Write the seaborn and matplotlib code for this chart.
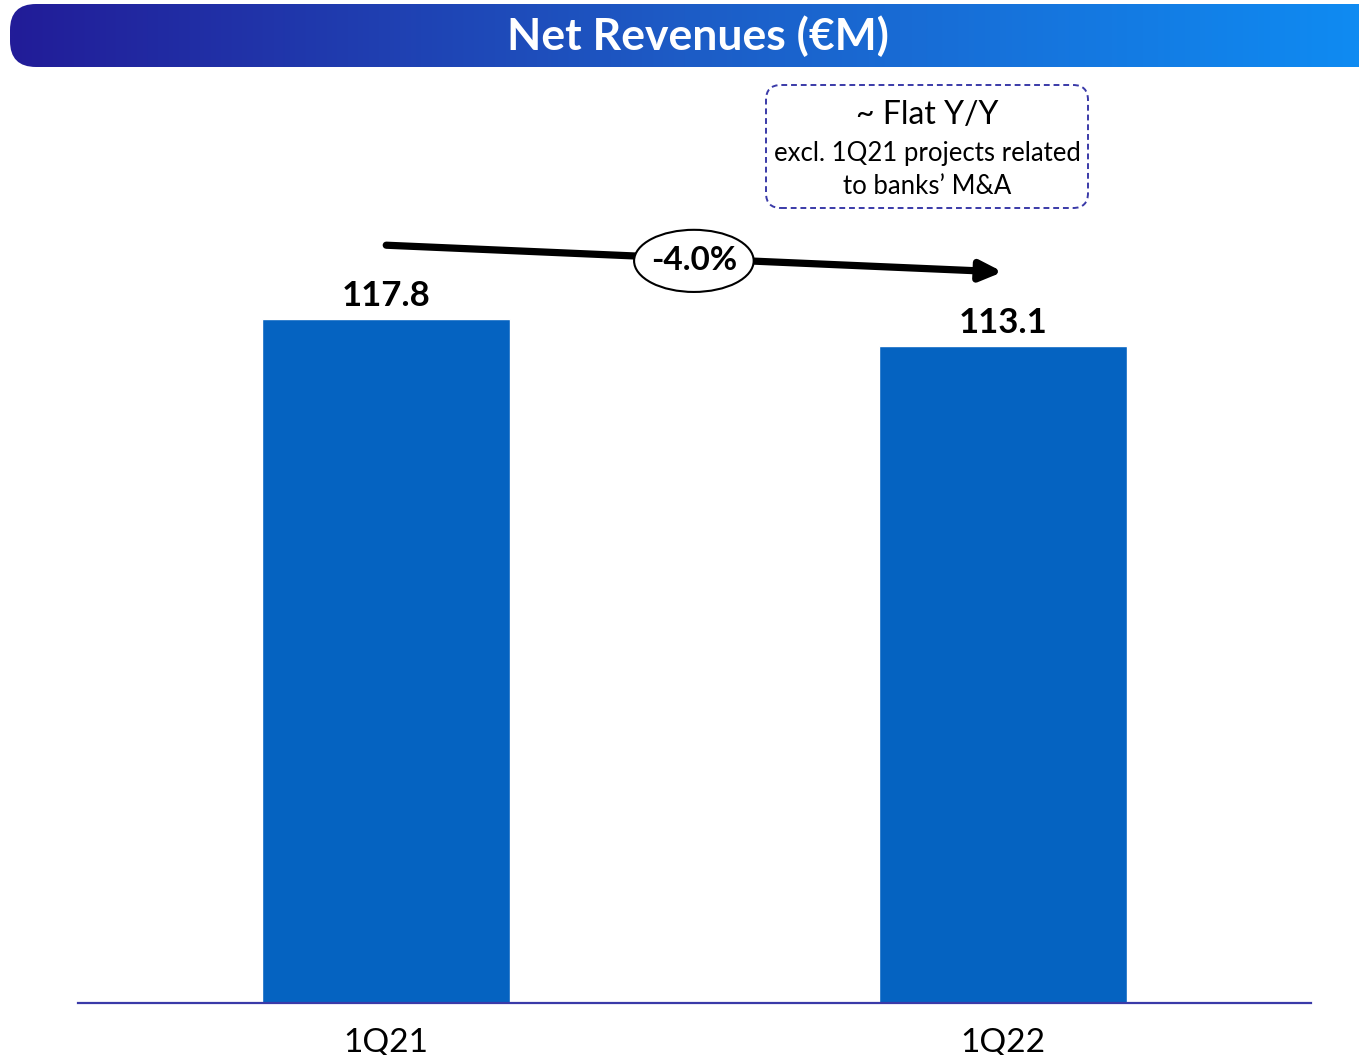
import matplotlib
matplotlib.use("Agg")
import matplotlib.pyplot as plt
from matplotlib.patches import FancyBboxPatch, Ellipse
import seaborn as sns
import numpy as np
import pandas as pd

quarters = ["1Q21", "1Q22"]
revenues = [117.8, 113.1]
change_label = "-4.0%"
title = "Net Revenues (€M)"
note_head = "~ Flat Y/Y"
note_lines = ["excl. 1Q21 projects related", "to banks’ M&A"]

sns.set_style("white")
plt.rcParams["font.family"] = ["Lato", "DejaVu Sans"]
plt.rcParams["text.color"] = "black"
plt.rcParams["xtick.color"] = "black"

bar_color = "#0563C1"
line_color = "#3A3AA8"

fig = plt.figure(figsize=(13.59, 10.55), dpi=100)

# --- banner with gradient ---
bax = fig.add_axes([10 / 1359, (1055 - 67) / 1055, 1349 / 1359, 63 / 1055])
bax.set_xlim(0, 1349)
bax.set_ylim(0, 63)
bax.axis("off")
grad = np.linspace(0, 1, 512).reshape(1, -1)
cmap = matplotlib.colors.LinearSegmentedColormap.from_list("banner", ["#221C98", "#1D5CC6", "#0F8BF2"])
im = bax.imshow(grad, extent=(0, 1349, 0, 63), aspect="auto", cmap=cmap)
clip = FancyBboxPatch((0, 0), 1450, 63, boxstyle="round,pad=0,rounding_size=26",
                      transform=bax.transData, facecolor="none", edgecolor="none")
bax.add_patch(clip)
im.set_clip_path(clip)
bax.text(688, 31, title, color="white", fontsize=32, fontweight="bold",
         ha="center", va="center")

# --- bars ---
df = pd.DataFrame({"quarter": quarters, "revenue": revenues})
ax = fig.add_axes([78 / 1359, 52 / 1055, 1233 / 1359, 923 / 1055])
sns.barplot(data=df, x="quarter", y="revenue", color=bar_color, width=0.403,
            saturation=1, ax=ax)
ax.set_xlim(-0.5, 1.5)
ax.set_ylim(0, 158.95)
ax.set_xlabel("")
ax.set_ylabel("")
ax.set_yticks([])
ax.tick_params(axis="x", length=0, pad=17.5, labelsize=24, labelcolor="black")
for s in ["top", "left", "right"]:
    ax.spines[s].set_visible(False)
ax.spines["bottom"].set_color(line_color)
ax.spines["bottom"].set_linewidth(1.6)
ax.bar_label(ax.containers[0], fmt="%.1f", padding=5, fontsize=25,
             fontweight="bold", color="black")

# --- change arrow ---
y0 = revenues[0] + 12.7
y1 = revenues[1] + 12.8
ax.annotate("", xy=(1, y1), xytext=(0, y0),
            arrowprops=dict(arrowstyle="-|>,head_length=1.3,head_width=0.6",
                            lw=5.2, color="black", shrinkA=0, shrinkB=0))
ax.add_patch(Ellipse((0.499, (y0 + y1) / 2 - 0.4), 0.194, 10.7, facecolor="white",
                     edgecolor="black", lw=1.5, zorder=5))
ax.text(0.499, (y0 + y1) / 2 - 0.4, change_label, fontsize=24, fontweight="bold",
        ha="center", va="center", zorder=6)

# --- note box ---
note = FancyBboxPatch((7.66, 8.47), 3.22, 1.23, boxstyle="round,pad=0,rounding_size=0.15",
                      transform=fig.dpi_scale_trans, facecolor="white",
                      edgecolor=line_color, lw=1.4, linestyle=(0, (3, 2)))
fig.patches.append(note)
fig.text(927 / 1359, 1 - 115 / 1055, note_head, fontsize=23, ha="center", va="center")
fig.text(927 / 1359, 1 - 153 / 1055, note_lines[0], fontsize=18.5, ha="center", va="center")
fig.text(927 / 1359, 1 - 186 / 1055, note_lines[1], fontsize=18.5, ha="center", va="center")

fig.savefig("out.png", dpi=100)
